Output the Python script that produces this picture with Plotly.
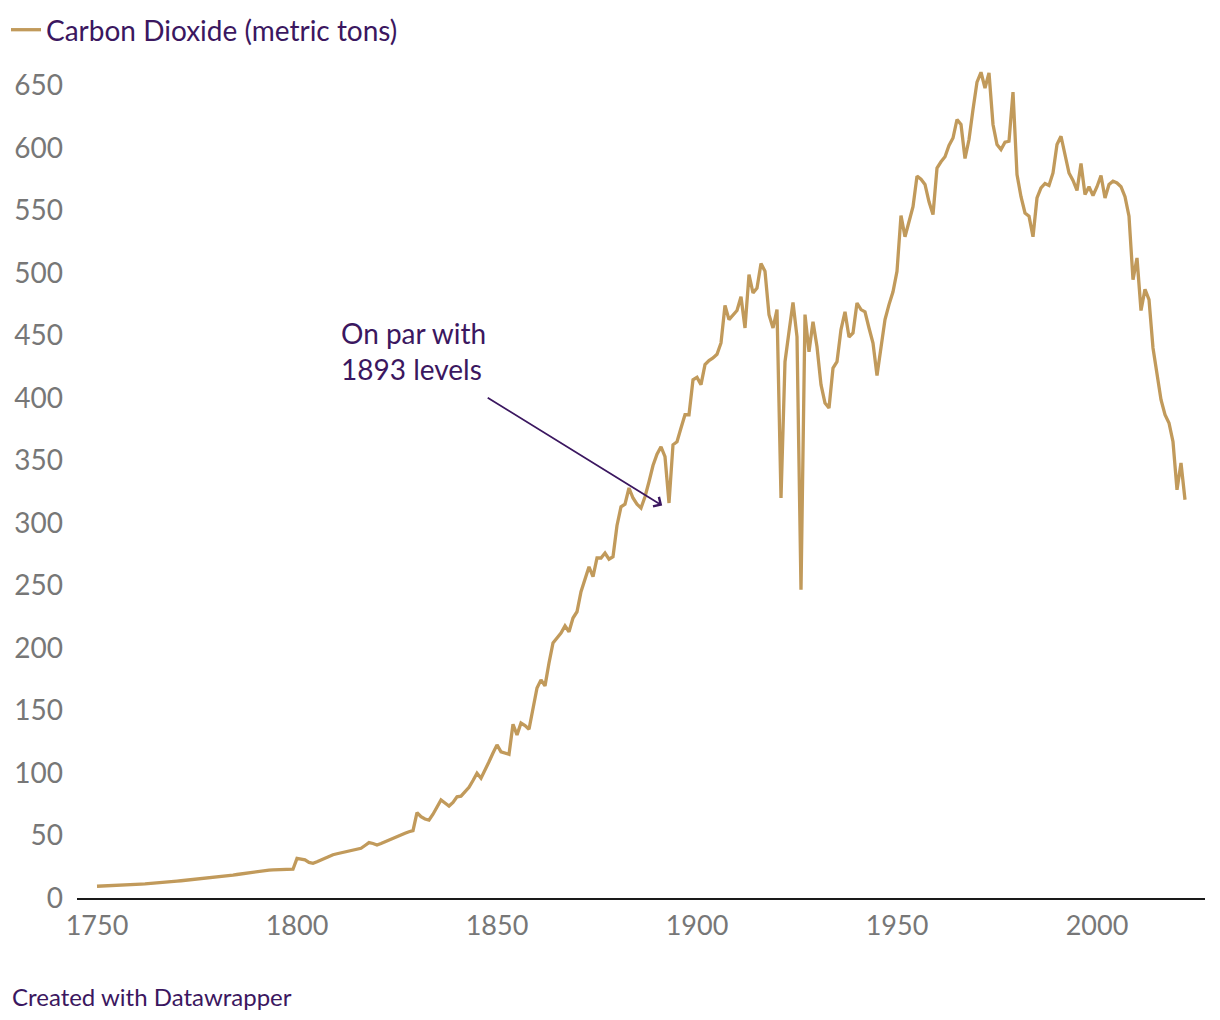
import plotly.graph_objects as go

years = list(range(1750, 2023))

co2_1750s = [9.4, 9.5, 9.6, 9.7, 9.8, 10.0, 10.1, 10.3, 10.5, 10.7]
co2_1760s = [10.9, 11.1, 11.3, 11.5, 11.8, 12.0, 12.3, 12.6, 12.9, 13.2]
co2_1770s = [13.5, 13.8, 14.1, 14.4, 14.7, 15.0, 15.3, 15.6, 16.0, 16.3]
co2_1780s = [16.7, 17.1, 17.5, 17.9, 18.3, 18.8, 19.3, 19.8, 20.3, 20.7]
co2_1790s = [21.0, 21.5, 21.9, 22.3, 22.5, 22.6, 22.5, 22.4, 22.4, 23.0]
co2_1800s = [31.7, 31.3, 30.5, 28.5, 27.8, 29.0, 30.5, 32.2, 33.6, 34.6]
co2_1810s = [35.4, 36.1, 36.8, 37.5, 38.2, 38.8, 39.8, 42.0, 44.3, 43.6]
co2_1820s = [42.4, 43.6, 45.0, 46.6, 48.2, 49.6, 50.6, 51.8, 53.0, 53.9]
co2_1830s = [68.3, 65.0, 63.2, 62.4, 67.0, 73.0, 78.5, 76.0, 73.6, 76.5]
co2_1840s = [81.0, 81.5, 85.0, 88.6, 94.0, 99.8, 95.8, 102.0, 109.0, 116.0]
co2_1850s = [122.5, 117.0, 116.0, 115.0, 139.0, 130.5, 140.0, 138.0, 135.0, 150.0]
co2_1860s = [168.0, 174.5, 169.7, 188.0, 204.0, 208.0, 212.0, 217.7, 213.0, 224.0]
co2_1870s = [229.0, 245.0, 255.0, 265.0, 257.0, 272.0, 272.0, 276.0, 271.0, 273.0]
co2_1880s = [298.0, 313.0, 315.0, 328.0, 320.0, 315.0, 312.0, 321.0, 333.0, 346.0]
co2_1890s = [355.0, 361.0, 353.0, 316.0, 362.6, 365.0, 376.0, 386.6, 386.6, 414.6]
co2_1900s = [416.5, 410.7, 426.7, 430.0, 432.0, 435.0, 444.0, 474.0, 462.7, 466.0]
co2_1910s = [470.0, 481.0, 456.0, 498.7, 484.0, 488.0, 507.5, 501.4, 466.7, 456.0]
co2_1920s = [470.7, 320.0, 429.0, 453.0, 476.5, 449.0, 246.6, 466.7, 437.0, 461.0]
co2_1930s = [441.0, 410.7, 396.0, 392.0, 424.0, 429.0, 454.7, 469.0, 448.8, 452.0]
co2_1940s = [476.0, 470.7, 469.0, 456.0, 444.0, 418.0, 438.7, 462.7, 474.7, 485.0]
co2_1950s = [501.4, 546.0, 529.0, 540.0, 553.0, 577.5, 575.0, 570.8, 557.0, 546.7]
co2_1960s = [584.0, 589.0, 593.0, 602.0, 608.0, 622.8, 618.8, 591.6, 606.8, 630.8]
co2_1970s = [652.7, 660.6, 648.0, 660.0, 618.8, 602.8, 598.8, 604.6, 605.4, 644.7]
co2_1980s = [578.8, 561.0, 548.0, 545.4, 529.0, 560.0, 568.0, 571.6, 570.0, 580.0]
co2_1990s = [602.8, 609.4, 594.8, 580.0, 574.0, 566.0, 587.6, 562.8, 569.0, 562.0]
co2_2000s = [569.0, 578.0, 560.0, 570.8, 573.5, 572.0, 569.0, 561.0, 545.4, 494.7]
co2_2010s = [512.0, 470.0, 487.0, 478.7, 440.0, 421.0, 398.6, 386.6, 380.0, 365.0]
co2_2020s = [326.6, 348.0, 318.6]

co2 = (co2_1750s + co2_1760s + co2_1770s + co2_1780s + co2_1790s + co2_1800s
       + co2_1810s + co2_1820s + co2_1830s + co2_1840s + co2_1850s + co2_1860s
       + co2_1870s + co2_1880s + co2_1890s + co2_1900s + co2_1910s + co2_1920s
       + co2_1930s + co2_1940s + co2_1950s + co2_1960s + co2_1970s + co2_1980s
       + co2_1990s + co2_2000s + co2_2010s + co2_2020s)
assert len(co2) == len(years)

x_ticks = [1750, 1800, 1850, 1900, 1950, 2000]
y_ticks = [0, 50, 100, 150, 200, 250, 300, 350, 400, 450, 500, 550, 600, 650]

series_name = "Carbon Dioxide (metric tons)"
note_text = "On par with<br>1893 levels"
footer_text = "Created with Datawrapper"

LINE = "#c19a5b"
PURPLE = "#3b1760"
GREY = "#777777"
FONT = "Lato, 'Open Sans', sans-serif"

fig = go.Figure()
fig.add_trace(go.Scatter(
    x=years, y=co2, mode="lines", name=series_name,
    line=dict(color=LINE, width=3.3),
    hoverinfo="x+y",
))

# page body has an 8px margin, so the figure is sized to fit the window
W, H = 1212, 1004
L, R, T, B = 69, 15, 40, 114
pw = W - L - R
ph = H - T - B

fig.update_layout(
    width=W, height=H,
    margin=dict(l=L, r=R, t=T, b=B, autoexpand=False),
    paper_bgcolor="white", plot_bgcolor="white",
    font=dict(family=FONT, color=GREY, size=27),
    showlegend=True,
    legend=dict(
        orientation="h", x=(-2 - L) / pw, xanchor="left",
        y=1 + (T - 22) / ph, yanchor="middle",
        font=dict(color=PURPLE, size=28, family=FONT),
        itemwidth=30, bgcolor="rgba(0,0,0,0)",
    ),
    xaxis=dict(
        range=[1745, 2027], tickvals=x_ticks, ticktext=[str(v) for v in x_ticks],
        showgrid=False, zeroline=False, showline=True, linecolor="#1a1a1a",
        linewidth=2, ticks="", ticklabelstandoff=3,
        tickfont=dict(size=27, color=GREY),
    ),
    yaxis=dict(
        range=[0, 680], tickvals=y_ticks, ticktext=[str(v) for v in y_ticks],
        showgrid=False, zeroline=False, showline=False, ticks="",
        ticklabelstandoff=13, tickfont=dict(size=28, color=GREY),
    ),
    annotations=[
        dict(
            x=1891.3, y=314, xref="x", yref="y",
            ax=1847.3, ay=401, axref="x", ayref="y",
            text="", showarrow=True, arrowhead=4, arrowsize=1.2,
            arrowwidth=1.8, arrowcolor=PURPLE,
        ),
        dict(
            x=1810.5, y=467.5, xref="x", yref="y", xanchor="left", yanchor="top",
            text=note_text, showarrow=False, align="left",
            font=dict(color=PURPLE, size=28, family=FONT),
        ),
        dict(
            x=(2 - L) / pw, y=-(988 - (H - B)) / ph, xref="paper", yref="paper",
            xanchor="left", yanchor="middle", text=footer_text, showarrow=False,
            font=dict(color=PURPLE, size=24, family=FONT),
        ),
    ],
)

fig.write_html("out.html")
